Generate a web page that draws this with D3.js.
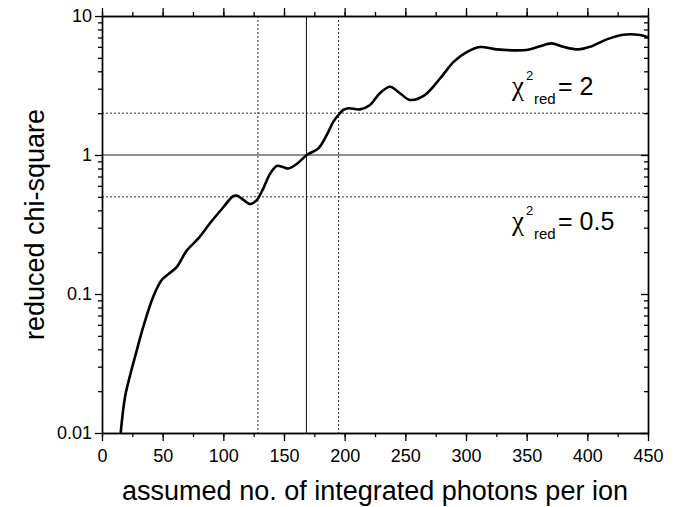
<!DOCTYPE html>
<html>
<head>
<meta charset="utf-8">
<script src="https://cdn.jsdelivr.net/npm/d3@7"></script>
<style>
  html, body { margin: 0; padding: 0; background: #fff; }
  svg { display: block; }
  text { font-family: "Liberation Sans", Arial, sans-serif; fill: #000; }
</style>
</head>
<body>
<svg id="chart" width="697" height="507"></svg>
<script>
// ---- data ----
const photons = [15.4, 19, 23.6, 28, 34, 42.3, 49.2, 54.7, 61.5, 69.8, 79.4, 89, 100, 108, 111, 116, 122, 127.5, 133, 138, 144, 149, 153.6, 160.5, 168.7, 178.3, 185.2, 190.7, 194.8, 198.9, 203, 212.6, 220.9, 229, 237.4, 245.6, 253.8, 266, 278.6, 290, 300.6, 311.5, 325.3, 350, 359.6, 370.6, 380.2, 392.6, 402.2, 416, 429.7, 443.4, 450];
const chiSquare = [0.01, 0.0182, 0.0269, 0.0374, 0.058, 0.096, 0.126, 0.139, 0.156, 0.205, 0.251, 0.323, 0.421, 0.505, 0.51, 0.48, 0.444, 0.474, 0.576, 0.72, 0.834, 0.82, 0.80, 0.861, 1.0, 1.117, 1.393, 1.738, 1.94, 2.11, 2.17, 2.13, 2.29, 2.78, 3.10, 2.78, 2.49, 2.7, 3.55, 4.7, 5.5, 5.98, 5.75, 5.70, 6.0, 6.35, 6.0, 5.75, 6.0, 6.79, 7.34, 7.3, 7.02];
const xMajorTicks = [0, 50, 100, 150, 200, 250, 300, 350, 400, 450];
const xMinorTicks = [0, 25, 50, 75, 100, 125, 150, 175, 200, 225, 250, 275, 300, 325, 350, 375, 400, 425, 450];
const yMajorTicks = [0.01, 0.1, 1, 10];
const yTickLabels = ["0.01", "0.1", "1", "10"];
const yMinorTicks = [0.02,0.03,0.04,0.05,0.06,0.07,0.08,0.09,0.2,0.3,0.4,0.5,0.6,0.7,0.8,0.9,2,3,4,5,6,7,8,9];
const hLinesDashed = [0.5, 2];
const hLinesSolid = [1];
const vLinesDashed = [128.5, 195];
const vLinesSolid = [168.5];
const xTitle = "assumed no. of integrated photons per ion";
const yTitle = "reduced chi-square";

// ---- layout ----
const svg = d3.select("#chart");
const L = 102, R = 648, T = 16, B = 433;
const x = d3.scaleLinear().domain([0, 450]).range([L, R]);
const y = d3.scaleLog().domain([0.01, 10]).range([B, T]);

const g = svg.append("g");

// reference lines
g.selectAll(".hd").data(hLinesDashed).join("line")
  .attr("x1", L).attr("x2", R).attr("y1", d => y(d)).attr("y2", d => y(d))
  .attr("stroke", "#333").attr("stroke-width", 1).attr("stroke-dasharray", "2,2");
g.selectAll(".hs").data(hLinesSolid).join("line")
  .attr("x1", L).attr("x2", R).attr("y1", d => y(d)).attr("y2", d => y(d))
  .attr("stroke", "#222").attr("stroke-width", 1.1);
g.selectAll(".vd").data(vLinesDashed).join("line")
  .attr("y1", T).attr("y2", B).attr("x1", d => x(d)).attr("x2", d => x(d))
  .attr("stroke", "#333").attr("stroke-width", 1).attr("stroke-dasharray", "2,2");
g.selectAll(".vs").data(vLinesSolid).join("line")
  .attr("y1", T).attr("y2", B).attr("x1", d => x(d)).attr("x2", d => x(d))
  .attr("stroke", "#222").attr("stroke-width", 1.1);

// curve
svg.append("clipPath").attr("id", "clip").append("rect")
  .attr("x", L).attr("y", T).attr("width", R - L).attr("height", B - T);
const pts = photons.map((p, i) => [p, chiSquare[i]]);
const line = d3.line().x(d => x(d[0])).y(d => y(d[1])).curve(d3.curveCatmullRom.alpha(0.5));
g.append("path").datum(pts).attr("d", line)
  .attr("fill", "none").attr("stroke", "#000").attr("stroke-width", 2.6)
  .attr("stroke-linejoin", "round").attr("clip-path", "url(#clip)");

// axes
function style(sel) {
  sel.select(".domain").attr("stroke", "#000").attr("stroke-width", 1.4);
  sel.selectAll(".tick line").attr("stroke", "#000").attr("stroke-width", 1.3);
  sel.selectAll("text").style("font-size", "18px").style("font-family", '"Liberation Sans", Arial, sans-serif').attr("fill", "#000");
}
// bottom
g.append("g").attr("transform", `translate(0,${B})`)
  .call(d3.axisBottom(x).tickValues(xMinorTicks).tickSize(4).tickSizeOuter(0).tickFormat("")).call(style);
g.append("g").attr("transform", `translate(0,${B})`)
  .call(d3.axisBottom(x).tickValues(xMajorTicks).tickSize(8).tickSizeOuter(0).tickPadding(8).tickFormat(d3.format("d"))).call(style);
// top
g.append("g").attr("transform", `translate(0,${T})`)
  .call(d3.axisTop(x).tickValues(xMinorTicks).tickSize(4).tickSizeOuter(0).tickFormat("")).call(style);
g.append("g").attr("transform", `translate(0,${T})`)
  .call(d3.axisTop(x).tickValues(xMajorTicks).tickSize(8).tickSizeOuter(0).tickFormat("")).call(style);
// left
g.append("g").attr("transform", `translate(${L},0)`)
  .call(d3.axisLeft(y).tickValues(yMinorTicks).tickSize(4).tickSizeOuter(0).tickFormat("")).call(style);
g.append("g").attr("transform", `translate(${L},0)`)
  .call(d3.axisLeft(y).tickValues(yMajorTicks).tickSize(7).tickSizeOuter(0).tickPadding(3)
    .tickFormat((d, i) => yTickLabels[i])).call(style);
// right (inward ticks)
g.append("g").attr("transform", `translate(${R},0)`)
  .call(d3.axisRight(y).tickValues(yMinorTicks).tickSize(-4).tickSizeOuter(0).tickFormat("")).call(style);
g.append("g").attr("transform", `translate(${R},0)`)
  .call(d3.axisRight(y).tickValues(yMajorTicks).tickSize(-7).tickSizeOuter(0).tickFormat("")).call(style);

// titles
svg.append("text").attr("x", (L + R) / 2).attr("y", 500).attr("text-anchor", "middle")
  .style("font-size", "27px").text(xTitle);
svg.append("text").attr("transform", `translate(44,${(T + B) / 2}) rotate(-90)`).attr("text-anchor", "middle")
  .style("font-size", "27px").text(yTitle);

// annotations
function chiLabel(x0, base, val) {
  svg.append("text").attr("x", x0).attr("y", base).style("font-family", '"Liberation Serif", serif')
    .style("font-size", "27px").text("χ");
  svg.append("text").attr("x", x0 + 14).attr("y", base - 15).style("font-size", "13px").text("2");
  svg.append("text").attr("x", x0 + 22).attr("y", base + 9).style("font-size", "15px").text("red");
  svg.append("text").attr("x", x0 + 46).attr("y", base).style("font-size", "25px").text("= " + val);
}
chiLabel(512, 95, "2");
chiLabel(512, 230, "0.5");
</script>
</body>
</html>
